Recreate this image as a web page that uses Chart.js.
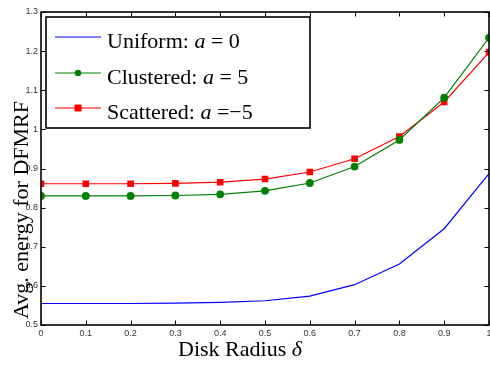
<!DOCTYPE html>
<html>
<head>
<meta charset="utf-8">
<script src="https://cdn.jsdelivr.net/npm/chart.js@4.4.0/dist/chart.umd.min.js"></script>
<style>
  html, body { margin: 0; padding: 0; background: #fff; overflow: hidden; }
  canvas { display: block; }
</style>
</head>
<body>
<canvas id="energyChart" width="494" height="365"></canvas>
<script>
// disk radius (x) and average energy for each arrangement
const radius = [0, 0.1, 0.2, 0.3, 0.4, 0.5, 0.6, 0.7, 0.8, 0.9, 1.0];
const uniform = [0.555, 0.555, 0.555, 0.556, 0.558, 0.562, 0.574, 0.603, 0.656, 0.746, 0.887];
const clustered = [0.830, 0.830, 0.830, 0.831, 0.834, 0.843, 0.863, 0.905, 0.973, 1.081, 1.234];
const scattered = [0.861, 0.861, 0.861, 0.862, 0.865, 0.873, 0.891, 0.925, 0.982, 1.070, 1.197];

const seriesNames = ['Uniform', 'Clustered', 'Scattered'];
const aValues = ['0', '5', '\u22125'];
const xTitle = 'Disk Radius ';
const yTitle = 'Avg. energy for DFMRF';

const serif = '"Liberation Serif", "Times New Roman", serif';
const sans = '"Liberation Sans", Arial, sans-serif';

const toPoints = (ys) => radius.map((x, i) => ({ x: x, y: ys[i] }));
const fmt = (v) => String(Number(v.toFixed(1)));

// frame, inward ticks, legend and axis titles
const matlabLook = {
    id: 'matlabLook',
    afterDraw(chart) {
        const { ctx, chartArea: a, scales } = chart;
        const xs = scales.x, ys = scales.y;
        ctx.save();
        ctx.strokeStyle = '#000';
        ctx.lineWidth = 1;
        ctx.beginPath();
        xs.ticks.forEach(t => {
            const px = Math.round(xs.getPixelForValue(t.value)) + 0.5;
            ctx.moveTo(px, a.top); ctx.lineTo(px, a.top + 4.5);
            ctx.moveTo(px, a.bottom); ctx.lineTo(px, a.bottom - 4.5);
        });
        ys.ticks.forEach(t => {
            const py = Math.round(ys.getPixelForValue(t.value)) + 0.5;
            ctx.moveTo(a.left, py); ctx.lineTo(a.left + 4.5, py);
            ctx.moveTo(a.right, py); ctx.lineTo(a.right - 4.5, py);
        });
        ctx.stroke();
        ctx.lineWidth = 1.6;
        ctx.strokeRect(a.left, a.top, a.right - a.left, a.bottom - a.top);

        // legend
        const lx = 46, ly = 17, lw = 264, lh = 111;
        ctx.fillStyle = '#fff';
        ctx.fillRect(lx, ly, lw, lh);
        ctx.lineWidth = 1.6;
        ctx.strokeRect(lx, ly, lw, lh);
        const rows = [37, 73, 108];
        chart.data.datasets.forEach((ds, i) => {
            const y = rows[i];
            ctx.strokeStyle = ds.borderColor;
            ctx.lineWidth = 1.2;
            ctx.beginPath();
            ctx.moveTo(55, y); ctx.lineTo(101, y);
            ctx.stroke();
            ctx.fillStyle = ds.borderColor;
            if (ds.pointStyle === 'circle' && ds.pointRadius > 0) {
                ctx.beginPath(); ctx.arc(78, y, 3.3, 0, Math.PI * 2); ctx.fill();
            } else if (ds.pointStyle === 'rect' && ds.pointRadius > 0) {
                ctx.fillRect(74.5, y - 3.5, 7, 7);
            }
            ctx.fillStyle = '#000';
            ctx.textBaseline = 'alphabetic';
            let tx = 107;
            const by = y + 11;
            const parts = [
                [seriesNames[i] + ': ', '22px ' + serif],
                ['a', 'italic 22px ' + serif],
                [i === 2 ? ' =' + aValues[i] : ' = ' + aValues[i], '22px ' + serif]
            ];
            parts.forEach(([t, f]) => {
                ctx.font = f;
                ctx.fillText(t, tx, by);
                tx += ctx.measureText(t).width;
            });
        });

        // x title
        ctx.fillStyle = '#000';
        ctx.font = '22px ' + serif;
        const w1 = ctx.measureText(xTitle).width;
        ctx.font = 'italic 22px ' + serif;
        const w2 = ctx.measureText('\u03b4').width;
        let sx = 240 - (w1 + w2) / 2;
        ctx.font = '22px ' + serif;
        ctx.fillText(xTitle, sx, 356);
        ctx.font = 'italic 22px ' + serif;
        ctx.fillText('\u03b4', sx + w1, 356);

        // y title
        ctx.translate(28, 210);
        ctx.rotate(-Math.PI / 2);
        ctx.font = '22px ' + serif;
        ctx.textAlign = 'center';
        ctx.fillText(yTitle, 0, 0);
        ctx.restore();
    }
};

new Chart(document.getElementById('energyChart'), {
    type: 'line',
    data: {
        datasets: [
            { label: seriesNames[0], data: toPoints(uniform), borderColor: '#0000ff', borderWidth: 1.2, pointRadius: 0, pointStyle: 'line' },
            { label: seriesNames[1], data: toPoints(clustered), borderColor: '#008000', backgroundColor: '#008000', borderWidth: 1.2, pointStyle: 'circle', pointRadius: 3.3 },
            { label: seriesNames[2], data: toPoints(scattered), borderColor: '#ff0000', backgroundColor: '#ff0000', borderWidth: 1.2, pointStyle: 'rect', pointRadius: 3.8 }
        ]
    },
    options: {
        responsive: false,
        animation: false,
        layout: { padding: { top: 12, right: 1, left: 0, bottom: 0 } },
        elements: { line: { tension: 0 }, point: { borderWidth: 0, hoverRadius: 0 } },
        plugins: { legend: { display: false }, tooltip: { enabled: false } },
        scales: {
            x: {
                type: 'linear', min: 0, max: 1,
                grid: { display: false, drawTicks: false }, border: { display: false },
                afterFit: (s) => { s.height = 40; s.paddingLeft = 0; s.paddingRight = 0; },
                ticks: { stepSize: 0.1, padding: 3, color: '#333', font: { family: sans, size: 9 }, callback: fmt, maxRotation: 0 }
            },
            y: {
                min: 0.5, max: 1.3,
                grid: { display: false, drawTicks: false }, border: { display: false },
                afterFit: (s) => { s.width = 41; s.paddingTop = 0; s.paddingBottom = 0; },
                ticks: { stepSize: 0.1, padding: 3, color: '#333', font: { family: sans, size: 9 }, callback: fmt }
            }
        }
    },
    plugins: [matlabLook]
});
</script>
</body>
</html>
